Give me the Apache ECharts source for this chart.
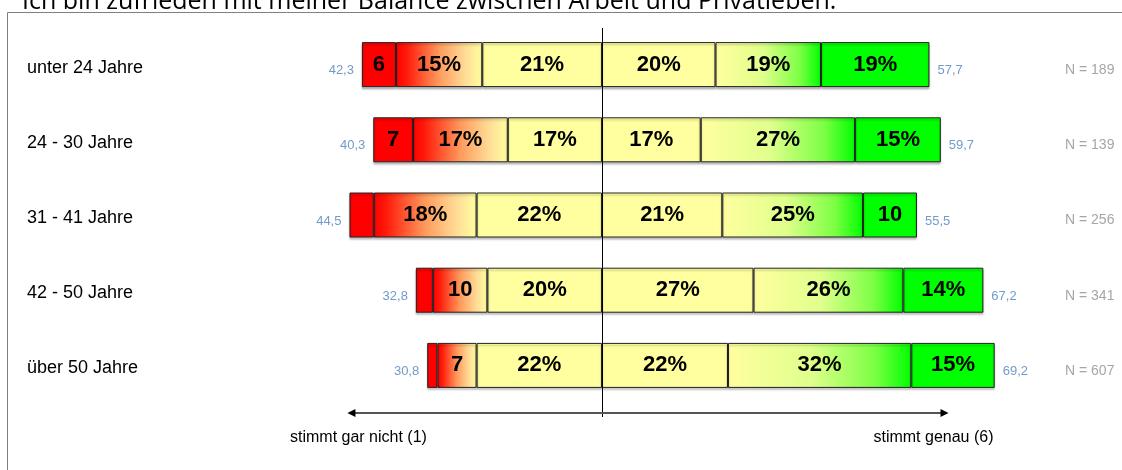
<!DOCTYPE html>
<html>
<head>
<meta charset="utf-8">
<script src="https://cdn.jsdelivr.net/npm/echarts@6/dist/echarts.min.js"></script>
<style>
  html, body { margin: 0; padding: 0; background: #fff; }
  #main { width: 1122px; height: 470px; }
</style>
</head>
<body>
<div id="main"></div>
<script>
// age groups, top to bottom
var categories = ["unter 24 Jahre", "24 - 30 Jahre", "31 - 41 Jahre", "42 - 50 Jahre", "über 50 Jahre"];
var sampleSizes = ["N = 189", "N = 139", "N = 256", "N = 341", "N = 607"];

// share per answer (1 = stimmt gar nicht ... 6 = stimmt genau)
var answer1 = [6.0, 7.0, 4.3, 3.0, 1.8];
var answer2 = [15.2, 16.7, 18.1, 9.6, 6.9];
var answer3 = [21.1, 16.6, 22.1, 20.2, 22.1];
var answer4 = [20.0, 17.4, 21.2, 26.7, 22.2];
var answer5 = [18.6, 27.2, 24.8, 26.4, 32.3];
var answer6 = [19.1, 15.1, 9.5, 14.1, 14.7];

// totals printed beside the bars
var leftTotals = ["42,3", "40,3", "44,5", "32,8", "30,8"];
var rightTotals = ["57,7", "59,7", "55,5", "67,2", "69,2"];
var leftTotalValues = [42.3, 40.3, 44.5, 32.8, 30.8];
var rightTotalValues = [57.7, 59.7, 55.5, 67.2, 69.2];

var chartDom = document.getElementById("main");
var myChart = echarts.init(chartDom);

var PALE = "#ffff9f";

function fmt(v) {
  var a = Math.abs(v);
  if (a < 4.5) return "";
  if (a < 11) return String(Math.round(a));
  return Math.round(a) + "%";
}

function seg(name, values, sign, color) {
  return {
    name: name,
    type: "bar",
    stack: "all",
    barWidth: 45,
    data: values.map(function (v) { return v * sign; }),
    itemStyle: {
      color: color,
      borderColor: "#222",
      borderWidth: 1,
      shadowColor: "rgba(0,0,0,0.25)",
      shadowOffsetY: 2,
      shadowBlur: 2
    },
    label: {
      show: true,
      position: "inside",
      color: "#000",
      fontFamily: "Liberation Sans",
      fontWeight: "bold",
      fontSize: 22,
      formatter: function (p) { return fmt(p.value); }
    },
    emphasis: { disabled: true },
    z: 2
  };
}

var redGrad = new echarts.graphic.LinearGradient(0, 0, 1, 0, [
  { offset: 0, color: "#ff0000" },
  { offset: 0.12, color: "#ff1a0a" },
  { offset: 0.5, color: "#ff9a5c" },
  { offset: 0.8, color: "#ffdb96" },
  { offset: 1, color: PALE }
]);
var greenGrad = new echarts.graphic.LinearGradient(0, 0, 1, 0, [
  { offset: 0, color: PALE },
  { offset: 0.45, color: "#e0ff8c" },
  { offset: 0.8, color: "#7cff44" },
  { offset: 1, color: "#00ff00" }
]);

var idx = categories.map(function (c, i) { return i; });

var option = {
  animation: false,
  grid: { left: 148, right: 66, top: 27, height: 376 },
  xAxis: {
    type: "value",
    min: -80,
    max: 80,
    show: false
  },
  yAxis: [
    {
      type: "category",
      inverse: true,
      data: categories,
      axisLine: { show: false },
      axisTick: { show: false },
      axisLabel: {
        align: "left",
        verticalAlign: "top",
        lineHeight: 6,
        margin: 121,
        color: "#000",
        fontFamily: "Liberation Sans",
        fontSize: 18
      }
    },
    {
      type: "category",
      inverse: true,
      position: "right",
      data: sampleSizes,
      axisLine: { show: false },
      axisTick: { show: false },
      axisLabel: {
        align: "left",
        verticalAlign: "top",
        lineHeight: 11,
        margin: 9,
        color: "#a6a6a6",
        fontFamily: "Liberation Sans",
        fontSize: 14
      }
    }
  ],
  series: [
    seg("3", answer3, -1, PALE),
    seg("2", answer2, -1, redGrad),
    seg("1", answer1, -1, "#ff0000"),
    seg("4", answer4, 1, PALE),
    seg("5", answer5, 1, greenGrad),
    seg("6", answer6, 1, "#00ff00"),
    {
      type: "scatter",
      symbolSize: 0,
      data: idx.map(function (i) { return [-leftTotalValues[i], i]; }),
      label: {
        show: true,
        position: "left",
        distance: 8,
        offset: [0, 6],
        color: "#4f81bd",
        fontFamily: "Liberation Sans",
        fontSize: 13,
        formatter: function (p) { return leftTotals[p.dataIndex]; }
      },
      z: 3
    },
    {
      type: "scatter",
      symbolSize: 0,
      data: idx.map(function (i) { return [rightTotalValues[i], i]; }),
      label: {
        show: true,
        position: "right",
        distance: 8,
        offset: [0, 6],
        color: "#4f81bd",
        fontFamily: "Liberation Sans",
        fontSize: 13,
        formatter: function (p) { return rightTotals[p.dataIndex]; }
      },
      z: 3
    }
  ]
};

option && myChart.setOption(option);

// center line, arrow and frame drawn from the axis scale
var x0 = myChart.convertToPixel({ xAxisIndex: 0 }, 0);
var xL = myChart.convertToPixel({ xAxisIndex: 0 }, -44.5);
var xR = myChart.convertToPixel({ xAxisIndex: 0 }, 60.7);

myChart.setOption({
  graphic: [
    {
      type: "text",
      x: 22,
      y: 2,
      style: {
        text: "Ich bin zufrieden mit meiner Balance zwischen Arbeit und Privatleben.",
        fontFamily: "Open Sans",
        fontSize: 25,
        fill: "#000",
        verticalAlign: "middle"
      },
      z: 20
    },
    {
      type: "rect",
      shape: { x: 7.5, y: 12.5, width: 1200, height: 600 },
      style: { fill: null, stroke: "#7f7f7f", lineWidth: 1 },
      silent: true
    },
    {
      type: "line",
      shape: { x1: Math.round(x0) + 0.5, y1: 28, x2: Math.round(x0) + 0.5, y2: 417 },
      style: { stroke: "#000", lineWidth: 1 },
      z: 10
    },
    {
      type: "polyline",
      shape: { points: [[xL, 413], [xR, 413]] },
      style: { stroke: "#555", lineWidth: 2 },
      z: 10
    },
    {
      type: "polygon",
      shape: { points: [[xL - 2, 413], [xL + 6, 409], [xL + 6, 417]] },
      style: { fill: "#000" },
      z: 10
    },
    {
      type: "polygon",
      shape: { points: [[xR + 2, 413], [xR - 6, 409], [xR - 6, 417]] },
      style: { fill: "#000" },
      z: 10
    },
    {
      type: "text",
      x: xL + 9,
      y: 438,
      style: {
        text: "stimmt gar nicht (1)",
        fontFamily: "Liberation Sans",
        fontSize: 16,
        fill: "#000",
        align: "center",
        verticalAlign: "middle"
      }
    },
    {
      type: "text",
      x: xR - 13,
      y: 438,
      style: {
        text: "stimmt genau (6)",
        fontFamily: "Liberation Sans",
        fontSize: 16,
        fill: "#000",
        align: "center",
        verticalAlign: "middle"
      }
    }
  ]
});
</script>
</body>
</html>
